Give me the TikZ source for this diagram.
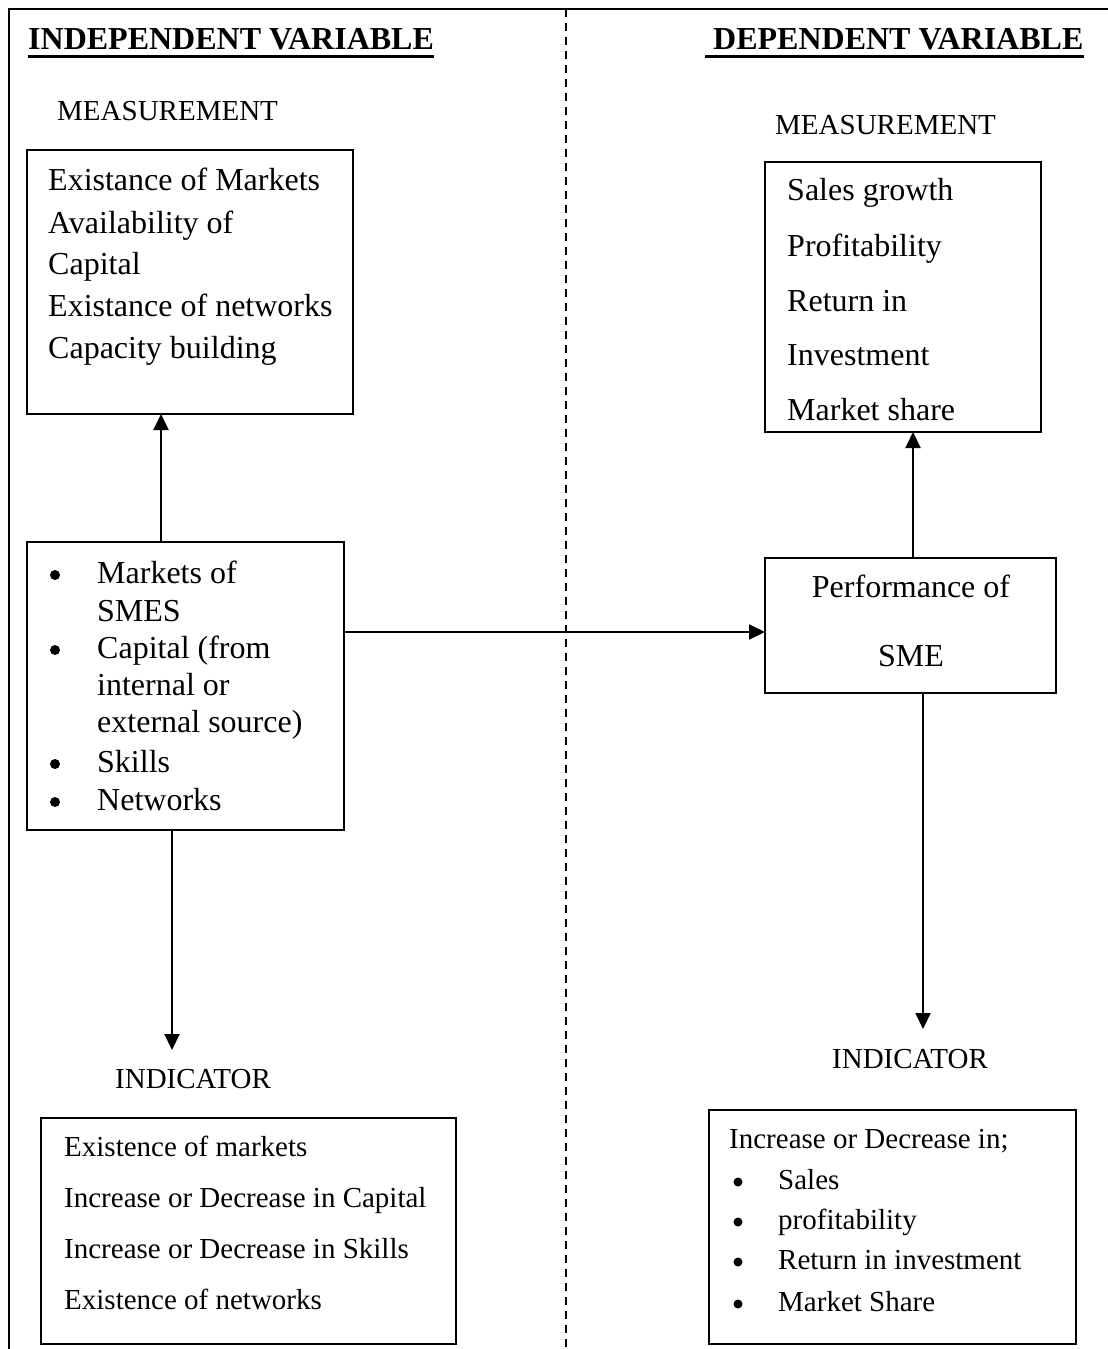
\documentclass[tikz,border=0pt]{standalone}
\usepackage{fontspec}
\setmainfont{Liberation Serif}
\usetikzlibrary{arrows.meta}
\begin{document}
\begin{tikzpicture}[x=1pt,y=-1pt,
  big/.style={font=\fontsize{32}{38}\selectfont, inner sep=0pt, anchor=base west},
  med/.style={font=\fontsize{29}{35}\selectfont, inner sep=0pt, anchor=base west},
  hd/.style={font=\fontsize{32}{38}\selectfont\bfseries, inner sep=0pt, anchor=base west},
  box/.style={draw, line width=1.8pt, inner sep=0pt, outer sep=0pt, anchor=north west},
  arr/.style={line width=2pt, -{Triangle[length=16pt,width=15pt]}},
  frame/.style={line width=1.8pt},
  divider/.style={line width=1.5pt, dash pattern=on 8pt off 6pt},
  uline/.style={line width=3pt},
  dotbig/.style={circle, fill, inner sep=0pt, minimum size=10pt},
  dotmed/.style={circle, fill, inner sep=0pt, minimum size=9pt}
]
\useasboundingbox (0,0) rectangle (1108,1349);

% frame and divider
\draw[frame] (9,1349) -- (9,9) -- (1108,9);
\draw[divider] (566,9) -- (566,1349);

% headings
\node[hd] (h1) at (28,49) {INDEPENDENT VARIABLE};
\draw[uline] ([yshift=-7pt]h1.base west) -- ([yshift=-7pt]h1.base east);
\node[hd] (h2) at (713,49) {DEPENDENT VARIABLE};
\draw[uline] ([xshift=-8pt,yshift=-7pt]h2.base west) -- ([yshift=-7pt]h2.base east);

% measurement labels
\node[med] (m1) at (57,120) {MEASUREMENT};
\node[med] (m2) at (775,134) {MEASUREMENT};

% boxes
\node[box, minimum width=326pt, minimum height=264pt] (indmeas) at (27,150) {};
\node[box, minimum width=276pt, minimum height=270pt] (depmeas) at (765,162) {};
\node[box, minimum width=317pt, minimum height=288pt] (ind) at (27,542) {};
\node[box, minimum width=291pt, minimum height=135pt] (perf) at (765,558) {};
\node[box, minimum width=415pt, minimum height=226pt] (indind) at (41,1118) {};
\node[box, minimum width=367pt, minimum height=234pt] (depind) at (709,1110) {};

% independent measurement text
\node[big] (t11) at (48,190) {Existance of Markets};
\node[big] (t12) at (48,233) {Availability of};
\node[big] (t13) at (48,274) {Capital};
\node[big] (t14) at (48,316) {Existance of networks};
\node[big] (t15) at (48,358) {Capacity building};

% dependent measurement text
\node[big] (t21) at (787,200) {Sales growth};
\node[big] (t22) at (787,256) {Profitability};
\node[big] (t23) at (787,311) {Return in};
\node[big] (t24) at (787,365) {Investment};
\node[big] (t25) at (787,420) {Market share};

% independent variable box
\node[dotbig] (b1) at (55,575) {};
\node[big] (t31) at (97,583) {Markets of};
\node[big] (t32) at (97,621) {SMES};
\node[dotbig] (b2) at (55,650) {};
\node[big] (t33) at (97,658) {Capital (from};
\node[big] (t34) at (97,695) {internal or};
\node[big] (t35) at (97,732) {external source)};
\node[dotbig] (b3) at (55,764) {};
\node[big] (t36) at (97,772) {Skills};
\node[dotbig] (b4) at (55,802) {};
\node[big] (t37) at (97,810) {Networks};

% performance box
\node[big, anchor=base] (t41) at (911,597) {Performance of};
\node[big, anchor=base] (t42) at (911,666) {SME};

% indicator labels
\node[med] (i1) at (115,1088) {INDICATOR};
\node[med] (i2) at (832,1068) {INDICATOR};

% independent indicator text
\node[med] (t51) at (64,1156) {Existence of markets};
\node[med] (t52) at (64,1207) {Increase or Decrease in Capital};
\node[med] (t53) at (64,1258) {Increase or Decrease in Skills};
\node[med] (t54) at (64,1309) {Existence of networks};

% dependent indicator text
\node[med] (t61) at (729,1148) {Increase or Decrease in;};
\node[dotmed] (b61) at (738,1182) {};
\node[med] (t62) at (778,1189) {Sales};
\node[dotmed] (b62) at (738,1222) {};
\node[med] (t63) at (778,1229) {profitability};
\node[dotmed] (b63) at (738,1262) {};
\node[med] (t64) at (778,1269) {Return in investment};
\node[dotmed] (b64) at (738,1304) {};
\node[med] (t65) at (778,1311) {Market Share};

% connectors
\coordinate (hy) at (0,632);
\coordinate (tipL) at (172,1050);
\coordinate (tipR) at (923,1029);
\draw[arr] ([xshift=134pt]ind.north west) -- ([xshift=134pt]indmeas.south west);
\draw[arr] (ind.east |- hy) -- (perf.west |- hy);
\draw[arr] ([xshift=148pt]perf.north west) -- ([xshift=148pt]depmeas.south west);
\draw[arr] (ind.south west -| tipL) -- (tipL);
\draw[arr] (perf.south west -| tipR) -- (tipR);
\end{tikzpicture}
\end{document}
